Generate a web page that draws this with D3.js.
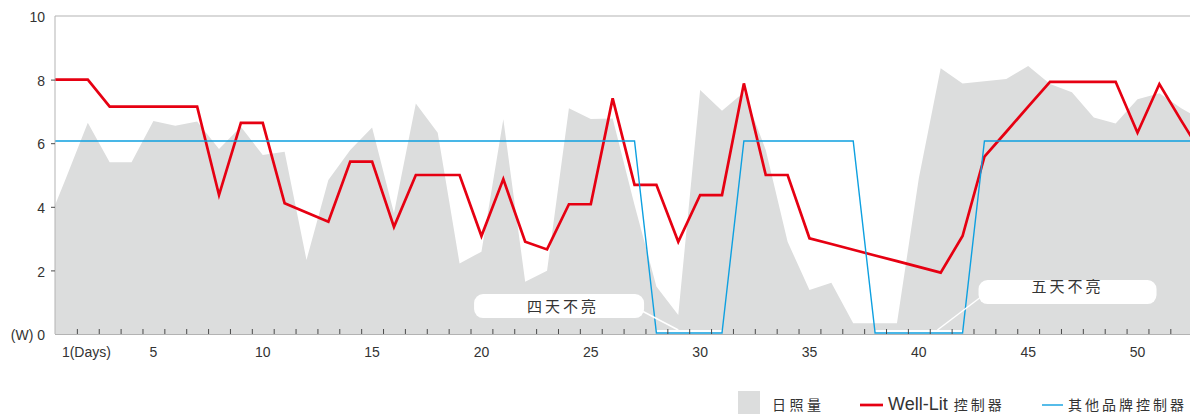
<!DOCTYPE html>
<html>
<head>
<meta charset="utf-8">
<script src="https://cdn.jsdelivr.net/npm/d3@7"></script>
<style>
  body { margin: 0; background: #fff; }
  svg { display: block; }
  .num { font-family: "Liberation Sans", Arial, sans-serif; font-size: 14px; fill: #333; }
  .cjk { font-family: "Noto Sans CJK TC", "Noto Sans CJK SC", sans-serif; fill: #333; }
</style>
</head>
<body>
<div id="chart"></div>
<script>
// days 0..53 (day 0 and the last days run past the visible frame and get clipped)
const days = d3.range(0, 54);

// 日照量 (sunlight)
const sunlight = [
  3.2, 4.9, 6.64, 5.4, 5.4, 6.7, 6.55, 6.68, 5.82, 6.52,
  5.63, 5.73, 2.33, 4.84, 5.79, 6.49, 3.8, 7.25, 6.33, 2.22,
  2.59, 6.75, 1.64, 1.99, 7.1, 6.76, 6.78, 4.06, 1.49, 0.6,
  7.67, 7.02, 7.6, 5.79, 2.9, 1.38, 1.61, 0.34, 0.34, 0.34,
  4.9, 8.36, 7.88, 7.95, 8.02, 8.43, 7.86, 7.6, 6.81, 6.62,
  7.38, 7.57, 7.1, 6.7
];

// Well-Lit 控制器 (W)
const wellLit = [
  8, 8, 8, 7.15, 7.15, 7.15, 7.15, 7.15, 4.37, 6.64,
  6.64, 4.11, 3.82, 3.53, 5.42, 5.42, 3.37, 5.0, 5.0, 5.0,
  3.08, 4.87, 2.9, 2.66, 4.08, 4.08, 7.41, 4.69, 4.69, 2.9,
  4.37, 4.37, 7.88, 5.0, 5.0, 3.01, 2.83, 2.65, 2.47, 2.29,
  2.11, 1.93, 3.08, 5.58, 6.36, 7.15, 7.93, 7.93, 7.93, 7.93,
  6.33, 7.86, 6.71, 5.6
];

// 其他品牌控制器 (W)
const otherBrand = [
  6.07, 6.07, 6.07, 6.07, 6.07, 6.07, 6.07, 6.07, 6.07, 6.07,
  6.07, 6.07, 6.07, 6.07, 6.07, 6.07, 6.07, 6.07, 6.07, 6.07,
  6.07, 6.07, 6.07, 6.07, 6.07, 6.07, 6.07, 6.07, 0, 0,
  0, 0, 6.07, 6.07, 6.07, 6.07, 6.07, 6.07, 0, 0,
  0, 0, 0, 6.07, 6.07, 6.07, 6.07, 6.07, 6.07, 6.07,
  6.07, 6.07, 6.07, 6.07
];

const xLabelDays = [1, 5, 10, 15, 20, 25, 30, 35, 40, 45, 50];
const xTickDays = d3.range(1.5, 52, 1);
const yTickValues = [0, 2, 4, 6, 8, 10];
const notes = ["四天不亮", "五天不亮"];
const legendLabels = ["日照量", "Well-Lit", "控制器", "其他品牌控制器"];

const width = 1190, height = 414;
const GRAY = "#dcdddd", RED = "#e60012", BLUE = "#0ea0e0", AXIS = "#b3b3b3";

const x = d3.scaleLinear().domain([0.5, 52.4]).range([55, 1190]);
const y = d3.scaleLinear().domain([0, 10]).range([334, 16]);

const svg = d3.select("#chart")
  .append("svg")
  .attr("width", width)
  .attr("height", height);

svg.append("defs")
  .append("clipPath")
  .attr("id", "plot")
  .append("rect")
  .attr("x", x.range()[0])
  .attr("y", 0)
  .attr("width", x.range()[1] - x.range()[0])
  .attr("height", y(0));

const plot = svg.append("g").attr("clip-path", "url(#plot)");

const series = key => days.map((d, i) => ({ day: d, value: key[i] }));

// sunlight area
plot.append("path")
  .datum(series(sunlight))
  .attr("fill", GRAY)
  .attr("d", d3.area().x(d => x(d.day)).y0(y(0)).y1(d => y(d.value)));

// white strip above the days where the other brand stays dark
const offRuns = [];
otherBrand.forEach((v, i) => {
  if (v !== 0) return;
  const last = offRuns[offRuns.length - 1];
  if (last && last.end === days[i] - 1) last.end = days[i];
  else offRuns.push({ start: days[i], end: days[i] });
});
plot.selectAll(".off")
  .data(offRuns)
  .enter()
  .append("rect")
  .attr("class", "off")
  .attr("x", d => x(d.start))
  .attr("width", d => x(d.end) - x(d.start))
  .attr("y", y(0) - 4)
  .attr("height", 4)
  .attr("fill", "#fff");

// frame
svg.append("line").attr("x1", x.range()[0]).attr("x2", x.range()[1])
  .attr("y1", y(10)).attr("y2", y(10)).attr("stroke", AXIS);
svg.append("line").attr("x1", x.range()[0]).attr("x2", x.range()[0])
  .attr("y1", y(10)).attr("y2", y(0)).attr("stroke", AXIS);

// x ticks (half days, pointing up)
const xAxis = svg.append("g")
  .attr("transform", `translate(0,${y(0)})`)
  .call(d3.axisBottom(x).tickValues(xTickDays).tickSize(-5).tickFormat(""));
xAxis.select(".domain").remove();
xAxis.selectAll(".tick line").attr("stroke", "#4a4a4a");

svg.append("line").attr("x1", x.range()[0]).attr("x2", x.range()[1])
  .attr("y1", y(0) + 0.5).attr("y2", y(0) + 0.5).attr("stroke", AXIS);

// x labels
svg.selectAll(".xlab")
  .data(xLabelDays)
  .enter()
  .append("text")
  .attr("class", "num xlab")
  .attr("x", d => (d === 1 ? x(d) - 4 : x(d)))
  .attr("y", 357)
  .attr("text-anchor", d => (d === 1 ? "start" : "middle"))
  .text(d => (d === 1 ? "1(Days)" : d));

// y axis
const yAxis = svg.append("g")
  .attr("transform", `translate(${x.range()[0]},0)`)
  .call(d3.axisLeft(y).tickValues(yTickValues).tickSize(4).tickPadding(6)
    .tickFormat(d => (d === 0 ? "(W) 0" : d)));
yAxis.select(".domain").remove();
yAxis.selectAll(".tick line").attr("stroke", "#4a4a4a")
  .filter(d => d === 0 || d === 10).remove();
yAxis.selectAll(".tick text")
  .attr("class", "num")
  .attr("font-family", null)
  .attr("font-size", null)
  .attr("fill", null)
  .attr("dy", "0.4em");

// lines
const line = d3.line().x(d => x(d.day)).y(d => y(d.value));

plot.append("path")
  .datum(series(wellLit))
  .attr("fill", "none")
  .attr("stroke", RED)
  .attr("stroke-width", 2.7)
  .attr("stroke-linejoin", "miter")
  .attr("d", line);

plot.append("path")
  .datum(series(otherBrand).map(d => ({ day: d.day, value: d.value === 0 ? 0.03 : d.value })))
  .attr("fill", "none")
  .attr("stroke", BLUE)
  .attr("stroke-width", 1.4)
  .attr("d", line);

// callouts
const noteLayout = [
  { cx: x(23.55), cy: y(0.88), w: 170, ty: 0, px: x(29), side: "right" },
  { cx: x(46.8), cy: y(1.32), w: 178, ty: -6, px: x(40.85), side: "left" }
];
notes.forEach((t, i) => {
  const L = noteLayout[i];
  const g = svg.append("g");
  const bx = L.side === "right" ? L.cx + L.w / 2 - 2 : L.cx - L.w / 2 + 1;
  g.append("line")
    .attr("x1", bx).attr("y1", L.cy + (L.side === "right" ? 5 : 6))
    .attr("x2", L.px).attr("y2", y(0) - 4)
    .attr("stroke", "#fff").attr("stroke-width", 1.5);
  g.append("rect")
    .attr("x", L.cx - L.w / 2).attr("y", L.cy - 12)
    .attr("width", L.w).attr("height", 24)
    .attr("rx", 9)
    .attr("fill", "#fff");
  g.append("text")
    .attr("class", "cjk")
    .attr("x", L.cx + 4 + (i === 1 ? -4 : 0))
    .attr("y", L.cy + L.ty + 5.5)
    .attr("text-anchor", "middle")
    .attr("font-size", 15)
    .attr("letter-spacing", 3)
    .text(t);
});

// legend
const legend = svg.append("g");
legend.append("rect").attr("x", 738).attr("y", 391).attr("width", 22).attr("height", 23).attr("fill", GRAY);
legend.append("text").attr("class", "cjk").attr("x", 772).attr("y", 409.5)
  .attr("font-size", 14).attr("letter-spacing", 3.5).text(legendLabels[0]);

legend.append("line").attr("x1", 860).attr("x2", 883).attr("y1", 405).attr("y2", 405)
  .attr("stroke", RED).attr("stroke-width", 2.7);
const wl = legend.append("text").attr("x", 888).attr("y", 409.5);
wl.append("tspan").attr("class", "num").attr("font-size", 18).style("font-size", "18px").text(legendLabels[1]);
wl.append("tspan").attr("class", "cjk").attr("dx", 6).attr("font-size", 14)
  .attr("letter-spacing", 3).text(legendLabels[2]);

legend.append("line").attr("x1", 1042).attr("x2", 1063).attr("y1", 405).attr("y2", 405)
  .attr("stroke", BLUE).attr("stroke-width", 1.4);
legend.append("text").attr("class", "cjk").attr("x", 1068).attr("y", 409.5)
  .attr("font-size", 14).attr("letter-spacing", 3).text(legendLabels[3]);
</script>
</body>
</html>
